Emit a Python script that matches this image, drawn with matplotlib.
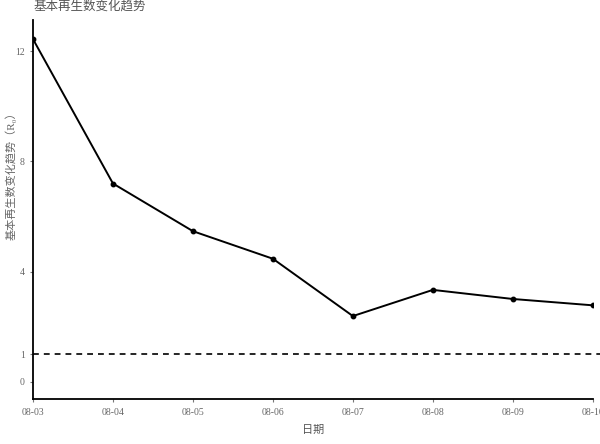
import matplotlib
matplotlib.use("Agg")
import matplotlib.pyplot as plt

plt.rcParams['font.family'] = ['Liberation Serif', 'Noto Sans CJK SC', 'DejaVu Sans']

# 数据：日期与基本再生数
dates = ['08-03', '08-04', '08-05', '08-06', '08-07', '08-08', '08-09', '08-10']
r0 = [12.44, 7.20, 5.47, 4.47, 2.39, 3.34, 3.01, 2.78]
y_ticks = [0, 1, 4, 8, 12]
threshold = 1

fig = plt.figure(figsize=(6, 4.44), dpi=100)
ax = fig.add_axes([0.055, 0.1007, 0.933, 0.854])

ax.plot(dates, r0, color='black', linewidth=1.4, marker='o', markersize=3.2)
# 阈值虚线，略超出坐标区右端
ax.axhline(threshold, xmin=0, xmax=1.013, clip_on=False, color='black',
           linestyle='--', linewidth=1.2, dashes=(3.5, 3))

ax.set_xlim(0, len(dates) - 1)
ax.set_ylim(-0.63, 13.13)
ax.set_yticks(y_ticks)

for side in ['top', 'right']:
    ax.spines[side].set_visible(False)
for side in ['left', 'bottom']:
    ax.spines[side].set_linewidth(1.3)
    ax.spines[side].set_color('black')

ax.tick_params(axis='both', labelsize=7, colors='#777777', length=2.5, width=0.8)
ax.tick_params(axis='both', labelcolor='#666666')

ax.set_xlabel('日期', fontsize=8, color='#555555', labelpad=6)
fig.text(0.018, 0.61, '基本再生数变化趋势（R₀）', fontsize=8, color='#666666',
         rotation=90, ha='center', va='center')
fig.text(0.055, 0.985, '基本再生数变化趋势', fontsize=9, color='#555555',
         ha='left', va='center')

fig.savefig('out.png', dpi=100)
